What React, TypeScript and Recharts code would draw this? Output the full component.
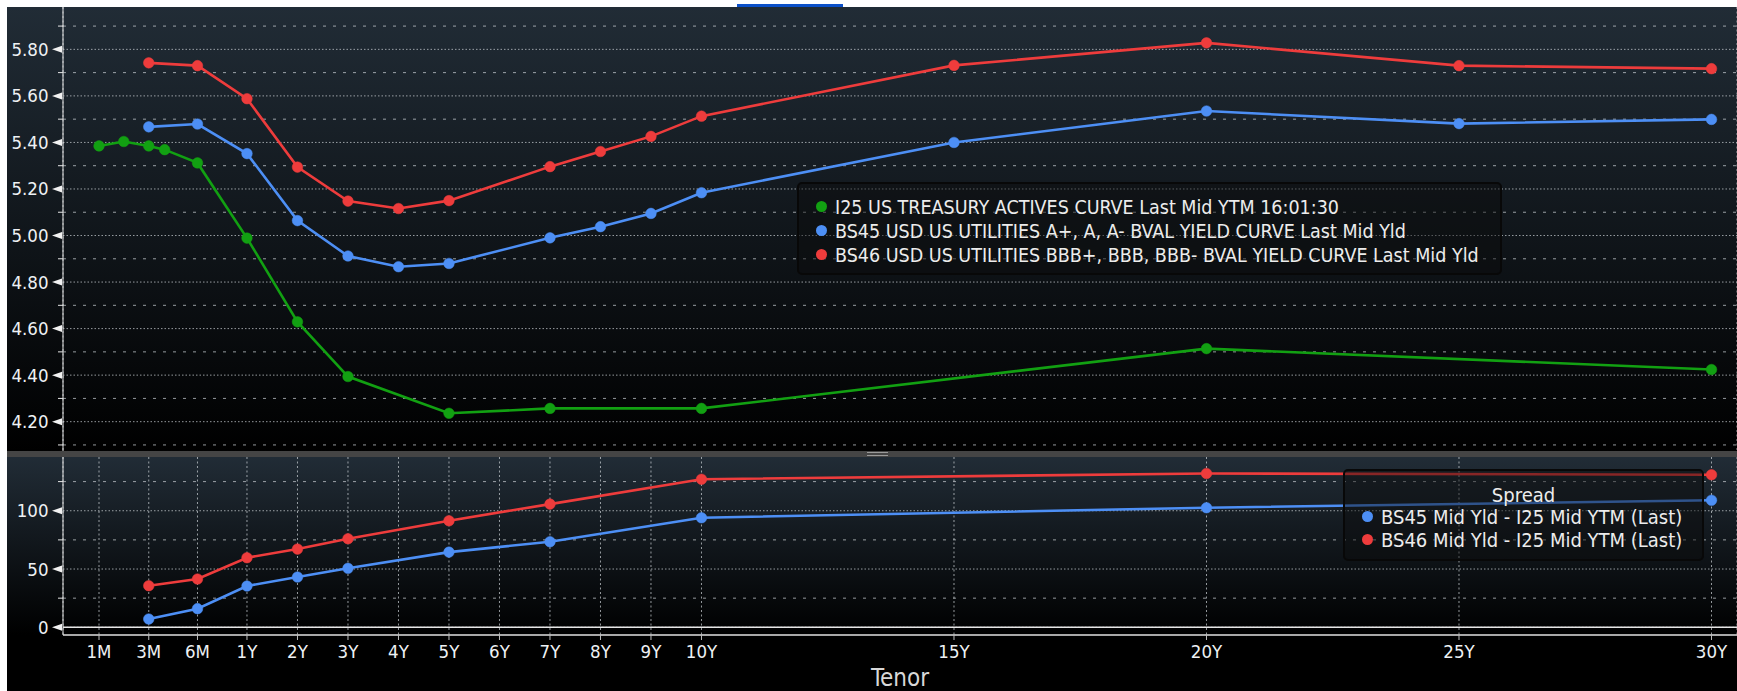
import React from 'react';
import { LineChart, Line, XAxis, YAxis, CartesianGrid, ReferenceLine } from 'recharts';

// tenors shown on the x axis
const axisTenors = ['1M', '3M', '6M', '1Y', '2Y', '3Y', '4Y', '5Y', '6Y', '7Y', '8Y', '9Y', '10Y', '15Y', '20Y', '25Y', '30Y'];

// I25 US Treasury actives
const i25Tenors = ['1M', '2M', '3M', '4M', '6M', '1Y', '2Y', '3Y', '5Y', '7Y', '10Y', '20Y', '30Y'];
const i25Ytm = [5.385, 5.404, 5.385, 5.369, 5.312, 4.989, 4.629, 4.394, 4.236, 4.257, 4.257, 4.514, 4.424];

// BVAL utilities curves
const bvalTenors = ['3M', '6M', '1Y', '2Y', '3Y', '4Y', '5Y', '7Y', '8Y', '9Y', '10Y', '15Y', '20Y', '25Y', '30Y'];
const bs45Yld = [5.467, 5.479, 5.352, 5.064, 4.912, 4.866, 4.88, 4.99, 5.038, 5.095, 5.184, 5.4, 5.535, 5.481, 5.499];
const bs46Yld = [5.742, 5.73, 5.588, 5.294, 5.148, 5.116, 5.15, 5.296, 5.361, 5.426, 5.513, 5.731, 5.828, 5.73, 5.717];

// spreads in bp
const spreadTenors = ['3M', '6M', '1Y', '2Y', '3Y', '5Y', '7Y', '10Y', '20Y', '30Y'];
const bs45Spread = [7.1, 16, 35.4, 43.1, 50.6, 64.5, 73.4, 94, 102.6, 109];
const bs46Spread = [35.7, 41.4, 59.7, 67.1, 76, 91.4, 105.7, 127, 132, 130.9];

const yieldMajor = [4.2, 4.4, 4.6, 4.8, 5.0, 5.2, 5.4, 5.6, 5.8];
const yieldMinor = [4.1, 4.3, 4.5, 4.7, 4.9, 5.1, 5.3, 5.5, 5.7, 5.9];
const spreadMajor = [0, 50, 100];
const spreadMinor = [25, 75, 125];

const seriesNames = [
  'I25 US TREASURY ACTIVES CURVE Last Mid YTM 16:01:30',
  'BS45 USD US UTILITIES A+, A, A- BVAL YIELD CURVE Last Mid Yld',
  'BS46 USD US UTILITIES BBB+, BBB, BBB- BVAL YIELD CURVE Last Mid Yld',
];
const spreadTitle = 'Spread';
const spreadNames = ['BS45 Mid Yld - I25 Mid YTM (Last)', 'BS46 Mid Yld - I25 Mid YTM (Last)'];

const GREEN = '#12a012';
const BLUE = '#4d8ff5';
const RED = '#ee3c3c';
const FONT = '"DejaVu Sans Condensed", "DejaVu Sans", sans-serif';
const GRID = 'rgba(205,210,215,0.72)';

// Bloomberg-style tenor axis: months squeezed in below 1Y, years linear after
const monthPos: Record<number, number> = { 1: -1.93, 2: -1.44, 3: -0.945, 4: -0.63, 6: 0.02 };
function tenorPos(t: string) {
  const n = parseFloat(t);
  return t.endsWith('Y') ? n : monthPos[n];
}

function pick(tenors: string[], vals: number[], t: string) {
  const i = tenors.indexOf(t);
  return i < 0 ? null : vals[i];
}

const allTenors = ['1M', '2M', '3M', '4M', '6M', '1Y', '2Y', '3Y', '4Y', '5Y', '7Y', '8Y', '9Y', '10Y', '15Y', '20Y', '25Y', '30Y'];
const yieldRows = allTenors.map((t) => ({
  x: tenorPos(t),
  i25: pick(i25Tenors, i25Ytm, t),
  bs45: pick(bvalTenors, bs45Yld, t),
  bs46: pick(bvalTenors, bs46Yld, t),
}));
const spreadRows = spreadTenors.map((t, i) => ({ x: tenorPos(t), s45: bs45Spread[i], s46: bs46Spread[i] }));

const xTicks = axisTenors.map(tenorPos);
const xDomain: [number, number] = [-2.643, 30.505];
const AX = 56;

function YTick(props: any) {
  const { y, payload, majors, fmt } = props;
  const v = payload.value;
  const major = majors.some((m: number) => Math.abs(m - v) < 1e-6);
  if (!major) return <line x1={AX - 5} x2={AX} y1={y} y2={y} stroke="#e6e6e6" strokeWidth={1} />;
  return (
    <g>
      <polygon points={`${AX - 11},${y} ${AX - 1},${y - 3.5} ${AX - 1},${y + 3.5}`} fill="#f2f2f2" />
      <text x={AX - 14.5} y={y} textAnchor="end" dominantBaseline="central" fill="#eef1f4" fontSize={18.5}
        fontFamily={FONT} style={{ fontStretch: 'condensed' }}>{fmt(v)}</text>
    </g>
  );
}

function XTick(props: any) {
  const { x, payload } = props;
  const label = axisTenors.find((t) => Math.abs(tenorPos(t) - payload.value) < 1e-6);
  return (
    <text x={x} y={194} textAnchor="middle" dominantBaseline="central" fill="#eef1f4" fontSize={18.5}
      fontFamily={FONT} style={{ fontStretch: 'condensed' }}>{label}</text>
  );
}

const dot = (c: string) => ({ r: 5.3, fill: c, stroke: c, strokeWidth: 0.5 });

function Bullet({ color }: { color: string }) {
  return <span style={{ display: 'inline-block', width: 11, height: 11, borderRadius: '50%', background: color, marginRight: 8, verticalAlign: 'middle', position: 'relative', top: -2 }} />;
}

const legendBox: React.CSSProperties = {
  position: 'absolute',
  background: 'rgba(12,12,12,0.45)',
  border: '2px solid #080808',
  borderRadius: 5,
  boxSizing: 'border-box',
  color: '#ececec',
  fontFamily: FONT,
  fontStretch: 'condensed',
  whiteSpace: 'nowrap',
};

export default function App() {
  const yieldTicks = [...yieldMajor, ...yieldMinor].sort((a, b) => a - b);
  const spreadTicks = [...spreadMajor, ...spreadMinor].sort((a, b) => a - b);
  return (
    <div style={{ position: 'absolute', left: 0, top: 0, width: 1737, height: 691, background: '#fff', overflow: 'hidden' }}>
      <div style={{ position: 'absolute', left: 737, top: 4, width: 106, height: 5, background: '#0b50c8' }} />
      <div style={{ position: 'absolute', left: 7, top: 7, width: 1730, height: 684, background: '#000' }} />
      <div style={{ position: 'absolute', left: 7, top: 7, width: 1730, height: 444, background: 'linear-gradient(to bottom, #212c36, #000)' }} />
      <div style={{ position: 'absolute', left: 7, top: 451, width: 1730, height: 6, background: '#454545' }} />
      <div style={{ position: 'absolute', left: 867, top: 452, width: 21, height: 1, background: '#9a9a9a' }} />
      <div style={{ position: 'absolute', left: 867, top: 455, width: 21, height: 1, background: '#9a9a9a' }} />
      <div style={{ position: 'absolute', left: 7, top: 457, width: 1730, height: 178, background: 'linear-gradient(to bottom, #212c36, #000)' }} />

      <div style={{ position: 'absolute', left: 7, top: 7 }}>
        <LineChart width={1730} height={444} data={yieldRows} margin={{ top: 0, right: 0, bottom: 0, left: 0 }}>
          <CartesianGrid horizontal={false} stroke={GRID} strokeDasharray="2 2.5" />
          {yieldMajor.map((v) => (
            <ReferenceLine key={'M' + v} y={v} stroke={GRID} strokeDasharray="1.5 2" />
          ))}
          {yieldMinor.map((v) => (
            <ReferenceLine key={'m' + v} y={v} stroke={GRID} strokeDasharray="3 7" />
          ))}
          <XAxis dataKey="x" type="number" domain={xDomain} ticks={xTicks} allowDataOverflow height={0}
            tick={false} axisLine={false} tickLine={false} />
          <YAxis type="number" domain={[4.074, 5.982]} allowDataOverflow ticks={yieldTicks} interval={0} width={AX}
            axisLine={{ stroke: '#e6e6e6', strokeWidth: 1 }} tickLine={false}
            tick={(p: any) => <YTick {...p} majors={yieldMajor} fmt={(v: number) => v.toFixed(2)} />} />
          <Line dataKey="i25" stroke={GREEN} strokeWidth={2.6} dot={dot(GREEN)} activeDot={false} connectNulls isAnimationActive={false} />
          <Line dataKey="bs45" stroke={BLUE} strokeWidth={2.6} dot={dot(BLUE)} activeDot={false} connectNulls isAnimationActive={false} />
          <Line dataKey="bs46" stroke={RED} strokeWidth={2.6} dot={dot(RED)} activeDot={false} connectNulls isAnimationActive={false} />
        </LineChart>
      </div>

      <div style={{ position: 'absolute', left: 7, top: 457 }}>
        <LineChart width={1730} height={234} data={spreadRows} margin={{ top: 0, right: 0, bottom: 0, left: 0 }}>
          <CartesianGrid horizontal={false} stroke={GRID} strokeDasharray="2 2.5" />
          {spreadMajor.map((v) => (
            <ReferenceLine key={'M' + v} y={v} stroke={GRID} strokeDasharray="1.5 2" />
          ))}
          {spreadMinor.map((v) => (
            <ReferenceLine key={'m' + v} y={v} stroke={GRID} strokeDasharray="3 7" />
          ))}
          <ReferenceLine y={0} stroke="#e6e6e6" strokeWidth={1.5} />
          <XAxis dataKey="x" type="number" domain={xDomain} ticks={xTicks} allowDataOverflow height={56} interval={0}
            axisLine={{ stroke: '#e0e0e0', strokeWidth: 1.5 }} tickLine={{ stroke: '#bdbdbd' }} tickSize={5}
            tick={(p: any) => <XTick {...p} />} />
          <YAxis type="number" domain={[-6.6, 146.1]} allowDataOverflow ticks={spreadTicks} interval={0} width={AX}
            axisLine={{ stroke: '#e6e6e6', strokeWidth: 1 }} tickLine={false}
            tick={(p: any) => <YTick {...p} majors={spreadMajor} fmt={(v: number) => String(v)} />} />
          <Line dataKey="s45" stroke={BLUE} strokeWidth={2.6} dot={dot(BLUE)} activeDot={false} isAnimationActive={false} />
          <Line dataKey="s46" stroke={RED} strokeWidth={2.6} dot={dot(RED)} activeDot={false} isAnimationActive={false} />
        </LineChart>
      </div>

      <div style={{ position: 'absolute', left: 7 + AX, width: 1730 - AX, top: 664, textAlign: 'center', color: '#d8d8d8', fontFamily: FONT, fontStretch: 'condensed', fontSize: 24, lineHeight: '28px' }}>
        Tenor
      </div>

      <div style={{ ...legendBox, left: 797, top: 182, width: 705, height: 93, paddingTop: 12, paddingLeft: 17, fontSize: 19.5, lineHeight: '24px' }}>
        {seriesNames.map((n, i) => (
          <div key={n}><Bullet color={[GREEN, BLUE, RED][i]} />{n}</div>
        ))}
      </div>

      <div style={{ ...legendBox, left: 1343, top: 469, width: 361, height: 92, paddingTop: 13, fontSize: 20, lineHeight: '22.4px' }}>
        <div style={{ textAlign: 'center' }}>{spreadTitle}</div>
        {spreadNames.map((n, i) => (
          <div key={n} style={{ paddingLeft: 17 }}><Bullet color={[BLUE, RED][i]} />{n}</div>
        ))}
      </div>
    </div>
  );
}
